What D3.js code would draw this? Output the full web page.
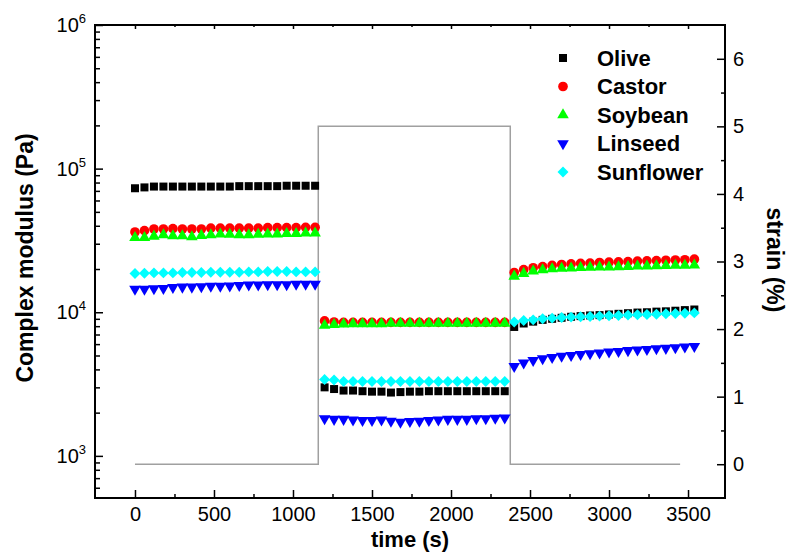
<!DOCTYPE html>
<html>
<head>
<meta charset="utf-8">
<title>Complex modulus vs time</title>
<style>
  body { margin: 0; background: #fff; }
  svg text { font-family: "Liberation Sans", Arial, sans-serif; }
</style>
</head>
<body>
<script src="https://cdn.jsdelivr.net/npm/d3@7"></script>
<script>
// time of every measurement (s) - three blocks of 20 points
const time = [
  0, 60, 120, 180, 240, 300, 360, 420, 480, 540, 600, 660, 720, 780, 840, 900, 960, 1020, 1080, 1140,
  1200, 1260, 1320, 1380, 1440, 1500, 1560, 1620, 1680, 1740, 1800, 1860, 1920, 1980, 2040, 2100, 2160, 2220, 2280, 2340,
  2400, 2460, 2520, 2580, 2640, 2700, 2760, 2820, 2880, 2940, 3000, 3060, 3120, 3180, 3240, 3300, 3360, 3420, 3480, 3540
]

// complex modulus (Pa)
const olive = [
  73000, 74000, 75000, 75000, 75000, 75000, 75000, 75000, 75000, 75000, 75000, 75500, 75500, 75500, 75500, 75500, 76000, 76000, 76000, 76000,
  3000, 2920, 2850, 2850, 2820, 2800, 2800, 2760, 2780, 2800, 2800, 2820, 2820, 2820, 2820, 2820, 2820, 2820, 2820, 2820,
  7900, 8350, 8600, 8850, 9000, 9150, 9300, 9400, 9500, 9550, 9650, 9750, 9850, 9950, 10000, 10100, 10150, 10250, 10350, 10450
]
const castor = [
  36200, 37000, 38000, 38000, 38200, 38000, 38000, 38000, 38500, 38500, 38500, 38500, 38500, 38500, 38800, 38800, 38800, 38800, 39000, 39000,
  8700, 8550, 8500, 8500, 8500, 8500, 8500, 8500, 8500, 8500, 8500, 8500, 8500, 8500, 8500, 8500, 8500, 8500, 8500, 8500,
  18900, 19800, 20400, 20800, 21200, 21500, 21700, 21900, 22000, 22200, 22300, 22400, 22500, 22700, 22800, 22900, 23000, 23100, 23200, 23400
]
const soybean = [
  33000, 33000, 33800, 34500, 34000, 34000, 33500, 34200, 34500, 35000, 34800, 34500, 34500, 34800, 35000, 35000, 35200, 35200, 35500, 35500,
  8100, 8200, 8250, 8300, 8300, 8300, 8300, 8350, 8350, 8350, 8350, 8350, 8350, 8350, 8350, 8350, 8350, 8350, 8350, 8350,
  17800, 18600, 19300, 19700, 20000, 20200, 20300, 20400, 20500, 20600, 20600, 20700, 20800, 20900, 20900, 21000, 21100, 21200, 21200, 21300
]
const linseed = [
  14500, 14500, 14600, 14700, 14900, 15000, 15000, 15100, 15200, 15200, 15300, 15400, 15500, 15500, 15600, 15600, 15600, 15700, 15700, 15700,
  1820, 1800, 1800, 1780, 1770, 1770, 1780, 1750, 1720, 1740, 1750, 1770, 1780, 1800, 1800, 1800, 1820, 1820, 1830, 1840,
  4200, 4450, 4620, 4750, 4850, 4950, 5020, 5100, 5150, 5220, 5300, 5350, 5420, 5480, 5520, 5580, 5620, 5680, 5750, 5800
]
const sunflower = [
  18600, 18700, 18800, 18800, 18800, 18900, 18900, 18900, 19000, 19000, 19000, 19000, 19100, 19100, 19200, 19200, 19200, 19100, 19100, 19100,
  3400, 3380, 3300, 3300, 3300, 3300, 3300, 3300, 3300, 3300, 3300, 3300, 3300, 3300, 3300, 3300, 3300, 3300, 3300, 3300,
  8550, 8750, 8850, 9000, 9100, 9200, 9250, 9300, 9350, 9400, 9450, 9500, 9550, 9600, 9650, 9700, 9750, 9800, 9850, 9900
]

// applied strain (%) - step profile
const strainTime = [0, 1160, 1160, 2375, 2375, 3450]
const strainValue = [0, 0, 5, 5, 0, 0]

const seriesNames = ["Olive", "Castor", "Soybean", "Linseed", "Sunflower"]

// tick values
const xTicks = [0, 500, 1000, 1500, 2000, 2500, 3000, 3500]
const xMinor = [250, 750, 1250, 1750, 2250, 2750, 3250]
const yTicks = [1e3, 1e4, 1e5, 1e6]
const strainTicks = [0, 1, 2, 3, 4, 5, 6]
const strainMinor = [0.5, 1.5, 2.5, 3.5, 4.5, 5.5]

// ---------- drawing ----------
const width = 788, height = 554
const mLeft = 95, mRight = 725, mTop = 25, mBottom = 498

const svg = d3.select("body").append("svg")
  .attr("width", width)
  .attr("height", height)

const x = d3.scaleLinear().domain([-253, 3734]).range([mLeft, mRight])
const y = d3.scaleLog().domain([509, 1e6]).range([mBottom, mTop])
const yS = d3.scaleLinear().domain([-0.5, 6.5]).range([mBottom, mTop])

// log minor ticks 2..9 per decade inside the domain
const yMinor = []
;[100, 1e3, 1e4, 1e5].forEach(d => {
  for (let k = 2; k <= 9; k++) {
    const v = d * k
    if (v >= y.domain()[0] && v <= y.domain()[1]) yMinor.push(v)
  }
})

// strain step line
const strainData = strainTime.map((t, i) => ({t: t, v: strainValue[i]}))
svg.append("path")
  .attr("fill", "none")
  .attr("stroke", "#a0a0a0")
  .attr("stroke-width", 1.5)
  .attr("d", d3.line().x(d => x(d.t)).y(d => yS(d.v))(strainData))

// markers
const series = [
  {values: olive, color: "#000000", symbol: d3.symbolSquare, size: 64, rot: 0},
  {values: castor, color: "#ff0000", symbol: d3.symbolCircle, size: 74, rot: 0},
  {values: soybean, color: "#00ff00", symbol: d3.symbolTriangle, size: 58, rot: 0},
  {values: linseed, color: "#0000ff", symbol: d3.symbolTriangle, size: 58, rot: 180},
  {values: sunflower, color: "#00ffff", symbol: d3.symbolSquare, size: 60, rot: 45}
]

series.forEach(s => {
  const g = svg.append("g").attr("fill", s.color)
  const path = d3.symbol().type(s.symbol).size(s.size)()
  g.selectAll("path")
    .data(time.map((t, i) => ({t: t, v: s.values[i]})))
    .enter()
    .append("path")
      .attr("d", path)
      .attr("transform", d => `translate(${x(d.t)},${y(d.v)}) rotate(${s.rot})`)
})

// frame
svg.append("rect")
  .attr("x", mLeft).attr("y", mTop)
  .attr("width", mRight - mLeft).attr("height", mBottom - mTop)
  .attr("fill", "none")
  .attr("stroke", "#000")
  .attr("stroke-width", 2)

const makeAxis = (axis, translate) => {
  const g = svg.append("g")
    .attr("transform", translate)
    .call(axis)
  g.select(".domain").remove()
  g.selectAll("line").attr("stroke", "#000").attr("stroke-width", 1.5)
  g.selectAll("text")
    .attr("fill", "#000")
    .style("font-size", "20px")
  return g
}

// bottom
makeAxis(d3.axisBottom(x).tickValues(xTicks).tickSize(-8).tickPadding(9).tickFormat(d3.format("d")), `translate(0,${mBottom})`)
makeAxis(d3.axisBottom(x).tickValues(xMinor).tickSize(-4).tickFormat(""), `translate(0,${mBottom})`)
// top
makeAxis(d3.axisTop(x).tickValues(xTicks).tickSize(-4).tickFormat(""), `translate(0,${mTop})`)
makeAxis(d3.axisTop(x).tickValues(xMinor).tickSize(-2).tickFormat(""), `translate(0,${mTop})`)
// left (log)
makeAxis(d3.axisLeft(y).tickValues(yTicks).tickSize(-8).tickFormat(""), `translate(${mLeft},0)`)
makeAxis(d3.axisLeft(y).tickValues(yMinor).tickSize(-5).tickFormat(""), `translate(${mLeft},0)`)
// right (strain)
makeAxis(d3.axisRight(yS).tickValues(strainTicks).tickSize(-8).tickPadding(8).tickFormat(d3.format("d")), `translate(${mRight},0)`)
makeAxis(d3.axisRight(yS).tickValues(strainMinor).tickSize(-4).tickFormat(""), `translate(${mRight},0)`)

// power-of-ten labels
const yLab = svg.append("g")
yTicks.forEach(v => {
  const t = yLab.append("text")
    .attr("x", mLeft - 9)
    .attr("y", y(v) + 7)
    .attr("text-anchor", "end")
    .style("font-size", "20px")
  t.append("tspan").text("10")
  t.append("tspan")
    .attr("dy", -9)
    .style("font-size", "13px")
    .text(Math.round(Math.log10(v)))
})

// axis titles
svg.append("text")
  .attr("transform", "translate(33,258) rotate(-90)")
  .attr("text-anchor", "middle")
  .style("font-size", "23px")
  .style("font-weight", "bold")
  .text("Complex modulus (Pa)")

svg.append("text")
  .attr("transform", "translate(767,260) rotate(90)")
  .attr("text-anchor", "middle")
  .style("font-size", "23px")
  .style("font-weight", "bold")
  .text("strain (%)")

svg.append("text")
  .attr("x", 410)
  .attr("y", 547)
  .attr("text-anchor", "middle")
  .style("font-size", "22px")
  .style("font-weight", "bold")
  .text("time (s)")

// legend
const legend = svg.append("g").attr("transform", "translate(563,58)")
series.forEach((s, i) => {
  const row = legend.append("g").attr("transform", `translate(0,${i * 28.5})`)
  row.append("path")
    .attr("d", d3.symbol().type(s.symbol).size(s.size)())
    .attr("transform", `rotate(${s.rot})`)
    .attr("fill", s.color)
  row.append("text")
    .attr("x", 34)
    .attr("y", 7.5)
    .style("font-size", "22px")
    .style("font-weight", "bold")
    .text(seriesNames[i])
})
</script>
</body>
</html>
